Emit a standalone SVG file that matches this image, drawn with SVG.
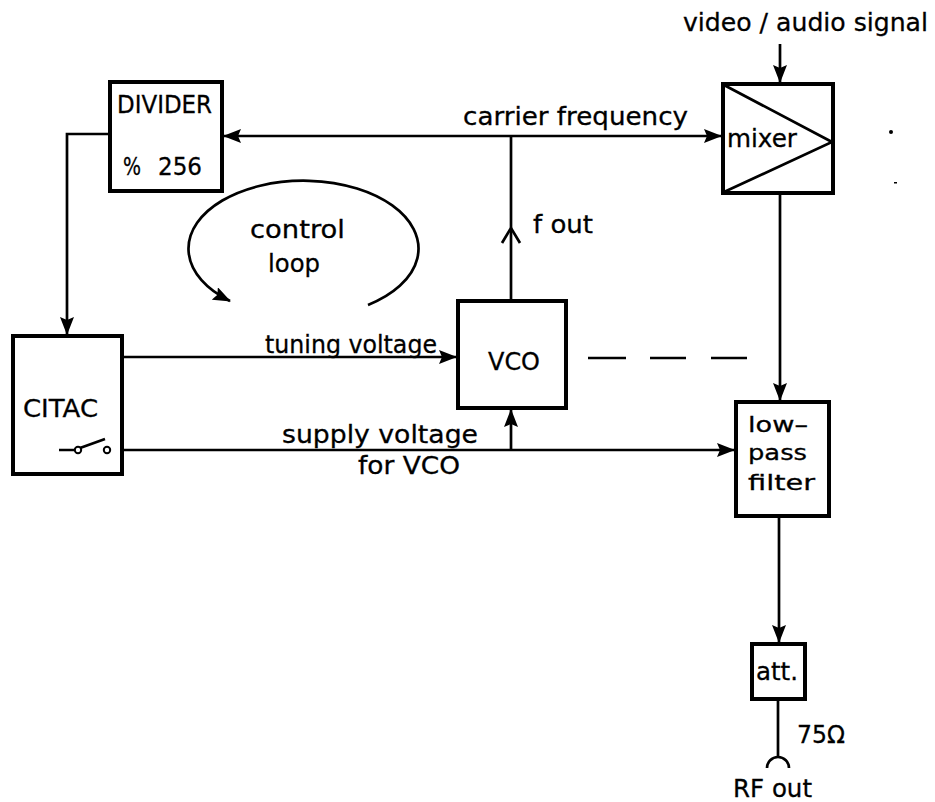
<svg xmlns="http://www.w3.org/2000/svg" width="935" height="802" viewBox="0 0 935 802">
<style>
text{font-family:"DejaVu Sans","Liberation Sans",sans-serif;font-size:25px;fill:#000;stroke:#000;stroke-width:0.3}
.sm{font-size:22px}
.box{fill:#fff;stroke:#000;stroke-width:4}
.ln{fill:none;stroke:#000;stroke-width:2.7}
</style>
<defs>
<marker id="ah" viewBox="0 0 18 14" refX="17" refY="7" markerWidth="18" markerHeight="14" markerUnits="userSpaceOnUse" orient="auto">
<path d="M0,0 L18,7 L0,14 L3,7 z" fill="#000"/>
</marker>
</defs>
<rect width="935" height="802" fill="#fff"/>
<g id="connectors">
<path class="ln" d="M110,134 H67 V334" marker-end="url(#ah)"/>
<path class="ln" d="M511,136 H224" marker-end="url(#ah)"/>
<path class="ln" d="M511,136 H721" marker-end="url(#ah)"/>
<path class="ln" d="M511,301 V136"/>
<path class="ln" d="M502,243 L511,228 L520,243"/>
<path class="ln" d="M780,44 V82" marker-end="url(#ah)"/>
<path class="ln" d="M780,193 V400" marker-end="url(#ah)"/>
<path class="ln" d="M122,357 H456" marker-end="url(#ah)"/>
<path class="ln" d="M110,450 H734" marker-end="url(#ah)"/>
<path class="ln" d="M511,450 V410" marker-end="url(#ah)"/>
<path class="ln" d="M588,358 H626 M650,358 H686 M711,358 H747"/>
<path class="ln" d="M779,516 V642" marker-end="url(#ah)"/>
<path class="ln" d="M778,699 V757"/>
<path class="ln" d="M767,768 A11,11 0 0,1 789,768"/>
<path class="ln" d="M368,305 A115,68 0 1,0 230,301" marker-end="url(#ah)"/>
</g>
<g id="divider">
<rect class="box" x="110" y="82" width="112" height="109"/>
<text x="117" y="113" textLength="95" lengthAdjust="spacingAndGlyphs">DIVIDER</text>
<text x="123" y="175" textLength="18" lengthAdjust="spacingAndGlyphs">%</text>
<text x="158" y="175" textLength="44" lengthAdjust="spacingAndGlyphs">256</text>
</g>
<g id="mixer">
<rect class="box" x="723" y="84" width="110" height="109"/>
<path class="ln" d="M724,85 L832,142 L724,192"/>
<text x="727" y="147" textLength="70" lengthAdjust="spacingAndGlyphs">mixer</text>
</g>
<g id="vco">
<rect class="box" x="458" y="301" width="108" height="107"/>
<text x="488" y="370" textLength="52" lengthAdjust="spacingAndGlyphs">VCO</text>
</g>
<g id="citac">
<rect class="box" x="13" y="336" width="109" height="138"/>
<text x="23" y="417" textLength="75" lengthAdjust="spacingAndGlyphs">CITAC</text>
<path class="ln" d="M59,450 H74 M80,448 L105,439"/>
<circle cx="78" cy="450" r="3.2" fill="#fff" stroke="#000" stroke-width="2"/>
<circle cx="107" cy="450" r="3.2" fill="#fff" stroke="#000" stroke-width="2"/>
</g>
<g id="lowpass">
<rect class="box" x="736" y="402" width="93" height="114"/>
<text class="sm" x="748" y="432" textLength="60" lengthAdjust="spacingAndGlyphs">low–</text>
<text class="sm" x="748" y="460" textLength="59" lengthAdjust="spacingAndGlyphs">pass</text>
<text class="sm" x="748" y="490" textLength="67" lengthAdjust="spacingAndGlyphs">filter</text>
</g>
<g id="att">
<rect class="box" x="752" y="644" width="53" height="55"/>
<text x="756" y="680" textLength="42" lengthAdjust="spacingAndGlyphs">att.</text>
</g>
<g id="labels">
<text x="683" y="31" textLength="245" lengthAdjust="spacingAndGlyphs">video / audio signal</text>
<text x="463" y="125" textLength="225" lengthAdjust="spacingAndGlyphs">carrier frequency</text>
<text x="533" y="233" textLength="60" lengthAdjust="spacingAndGlyphs">f out</text>
<text x="250" y="238" textLength="95" lengthAdjust="spacingAndGlyphs">control</text>
<text x="268" y="272" textLength="52" lengthAdjust="spacingAndGlyphs">loop</text>
<text x="265" y="353" textLength="172" lengthAdjust="spacingAndGlyphs">tuning voltage</text>
<text x="282" y="443" textLength="196" lengthAdjust="spacingAndGlyphs">supply voltage</text>
<text x="358" y="474" textLength="102" lengthAdjust="spacingAndGlyphs">for VCO</text>
<text x="797" y="743" textLength="48" lengthAdjust="spacingAndGlyphs">75Ω</text>
<text x="733" y="797" textLength="79" lengthAdjust="spacingAndGlyphs">RF out</text>
<circle cx="891" cy="132" r="2" fill="#000"/>
<rect x="894" y="182" width="3" height="1.5" fill="#000"/>
</g>
</svg>
